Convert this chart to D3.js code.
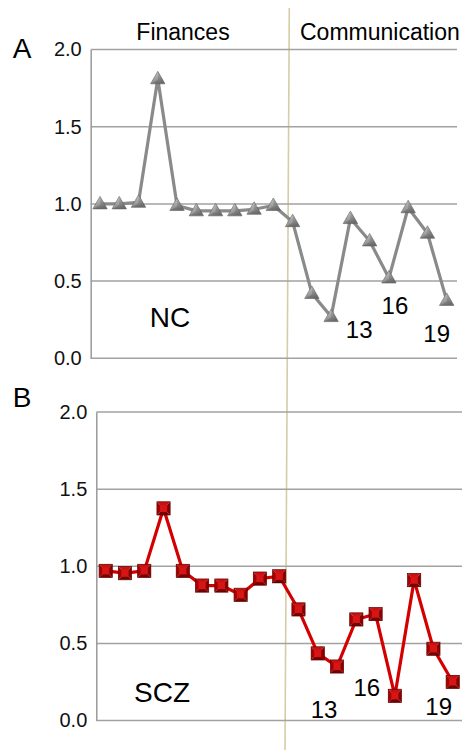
<!DOCTYPE html>
<html>
<head>
<meta charset="utf-8">
<script src="https://cdn.jsdelivr.net/npm/d3@7"></script>
<style>
  body { margin: 0; background: #fff; }
  svg { display: block; font-family: "Liberation Sans", Arial, sans-serif; }
</style>
</head>
<body>
<div id="chart"></div>
<script>
// item numbers along the x axis
const items = [1, 2, 3, 4, 5, 6, 7, 8, 9, 10, 11, 12, 13, 14, 15, 16, 17, 18, 19];
const yTicks = [0, 0.5, 1.0, 1.5, 2.0];
const sectionNames = ["Finances", "Communication"];
// NC group (panel A)
const ncValues = [1.0, 1.0, 1.01, 1.81, 0.99, 0.955, 0.955, 0.955, 0.965, 0.99,
                  0.885, 0.42, 0.27, 0.905, 0.76, 0.52, 0.975, 0.81, 0.375];
// SCZ group (panel B)
const sczValues = [0.97, 0.955, 0.97, 1.375, 0.97, 0.875, 0.875, 0.815, 0.92, 0.935,
                   0.72, 0.435, 0.35, 0.655, 0.69, 0.16, 0.91, 0.465, 0.25];
const markedItems = [13, 16, 19];

const W = 468, H = 750;
const svg = d3.select("#chart").append("svg")
  .attr("width", W).attr("height", H);

const defs = svg.append("defs");
const tri = defs.append("linearGradient").attr("id", "triGrad")
  .attr("x1", 0).attr("y1", 0).attr("x2", 0.4).attr("y2", 1);
tri.append("stop").attr("offset", "0%").attr("stop-color", "#c4c4c4");
tri.append("stop").attr("offset", "100%").attr("stop-color", "#6c6c6c");

const panels = [
  { letter: "A", group: "NC", values: ncValues, kind: "triangle", color: "#8a8a8a",
    axisX: 90.7, gridEnd: 457, xFirst: 100, xLast: 446.7, yTop: 49.5, yBottom: 358.3,
    letterY: 58, groupX: 170, groupY: 327,
    labelOffsets: { 13: [28, 21], 16: [6, 36], 19: [-10, 42] } },
  { letter: "B", group: "SCZ", values: sczValues, kind: "square", color: "#d40000",
    axisX: 96.3, gridEnd: 462, xFirst: 105.7, xLast: 452.7, yTop: 412, yBottom: 720.5,
    letterY: 407, groupX: 162, groupY: 702,
    labelOffsets: { 13: [-13, 51], 16: [-28, 0], 19: [-14, 33] } }
];

// section divider (tan line), slightly slanted as in the figure
svg.append("line")
  .attr("x1", 289.3).attr("y1", 8).attr("x2", 285).attr("y2", H)
  .attr("stroke", "#d6cca6").attr("stroke-width", 1.6);

// section titles
svg.append("text").attr("x", 183).attr("y", 40).attr("text-anchor", "middle")
  .attr("font-size", 23).text(sectionNames[0]);
svg.append("text").attr("x", 300).attr("y", 40).attr("text-anchor", "start")
  .attr("font-size", 23).text(sectionNames[1]);

panels.forEach(p => {
  const x = d3.scalePoint().domain(items).range([p.xFirst, p.xLast]);
  const y = d3.scaleLinear().domain([0, 2]).range([p.yBottom, p.yTop]);
  const g = svg.append("g");

  // gridlines
  g.selectAll(".grid").data(yTicks).enter().append("line")
    .attr("x1", p.axisX).attr("x2", p.gridEnd)
    .attr("y1", d => y(d)).attr("y2", d => y(d))
    .attr("stroke", "#a2a2a2").attr("stroke-width", 1.5);

  // left axis
  const axis = d3.axisLeft(y).tickValues(yTicks).tickFormat(d3.format(".1f"))
    .tickSize(0).tickPadding(9);
  const ag = g.append("g").attr("transform", `translate(${p.axisX},0)`).call(axis);
  ag.select(".domain").attr("stroke", "#9a9a9a").attr("stroke-width", 1.5);
  ag.selectAll("text").attr("font-size", 20).attr("fill", "#111")
    .attr("font-family", "Liberation Sans, Arial, sans-serif");

  // panel letter
  g.append("text").attr("x", 22).attr("y", p.letterY).attr("text-anchor", "middle")
    .attr("font-size", 28).text(p.letter);

  // group label
  g.append("text").attr("x", p.groupX).attr("y", p.groupY).attr("text-anchor", "middle")
    .attr("font-size", 28).text(p.group);

  // series line
  const pts = items.map((it, i) => ({ item: it, value: p.values[i] }));
  g.append("path").datum(pts)
    .attr("fill", "none").attr("stroke", p.color).attr("stroke-width", 3.2)
    .attr("stroke-linejoin", "round")
    .attr("d", d3.line().x(d => x(d.item)).y(d => y(d.value)));

  // markers
  const m = g.selectAll(".mark").data(pts).enter().append("g")
    .attr("transform", d => `translate(${x(d.item)},${y(d.value)})`);
  if (p.kind === "triangle") {
    m.append("path").attr("d", "M0,-7.5L7.2,5L-7.2,5Z")
      .attr("fill", "url(#triGrad)").attr("stroke", "#5c5c5c").attr("stroke-width", 0.6);
    m.append("path").attr("d", "M0,-7.5L-7.2,5L0,1Z")
      .attr("fill", "#ffffff").attr("opacity", 0.18);
  } else {
    const s = 6.6;
    const faces = [
      { d: `M${-s},${-s}L${s},${-s}L0,0Z`, c: "#c81212" },
      { d: `M${-s},${-s}L${-s},${s}L0,0Z`, c: "#a60000" },
      { d: `M${s},${-s}L${s},${s}L0,0Z`, c: "#8a0000" },
      { d: `M${-s},${s}L${s},${s}L0,0Z`, c: "#740000" }
    ];
    faces.forEach(f => m.append("path").attr("d", f.d).attr("fill", f.c));
    m.append("rect").attr("x", -3.6).attr("y", -3.6).attr("width", 7.2).attr("height", 7.2)
      .attr("fill", "#d61616");
    m.append("rect").attr("x", -s).attr("y", -s).attr("width", 2 * s).attr("height", 2 * s)
      .attr("fill", "none").attr("stroke", "#5e0000").attr("stroke-width", 0.7);
  }

  // item number labels
  g.selectAll(".num").data(pts.filter(d => markedItems.includes(d.item))).enter()
    .append("text")
    .attr("x", d => x(d.item) + p.labelOffsets[d.item][0])
    .attr("y", d => y(d.value) + p.labelOffsets[d.item][1])
    .attr("text-anchor", "middle").attr("font-size", 24)
    .text(d => d.item);
});
</script>
</body>
</html>
